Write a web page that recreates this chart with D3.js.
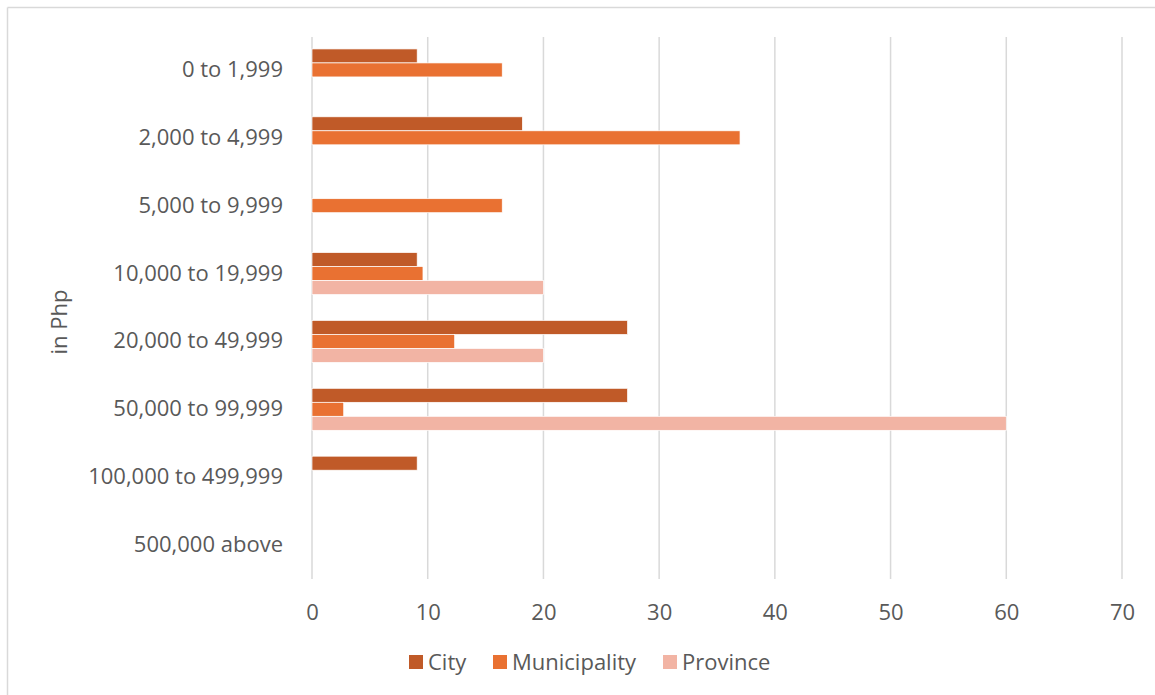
<!DOCTYPE html>
<html><head><meta charset="utf-8">
<script src="https://cdn.jsdelivr.net/npm/d3@7"></script>
<style>body{margin:0;background:#fff;} text{font-family:"Open Sans","Noto Sans",sans-serif;fill:#595959;}</style>
</head><body><svg id="c" width="1155" height="695"></svg>
<script>
const categories = ["0 to 1,999","2,000 to 4,999","5,000 to 9,999","10,000 to 19,999","20,000 to 49,999","50,000 to 99,999","100,000 to 499,999","500,000 above"];
const seriesNames = ["City","Municipality","Province"];
const cityValues = [9.09,18.18,0,9.09,27.27,27.27,9.09,0];
const municipalityValues = [16.44,36.99,16.44,9.59,12.33,2.74,0,0];
const provinceValues = [0,0,0,20,20,60,0,0];
const xTicks = [0,10,20,30,40,50,60,70];
const colors = ["#C05A28","#E97132","#F2B4A4"];

const svg = d3.select("#c");
svg.append("line").attr("x1",7.5).attr("x2",1155).attr("y1",7.5).attr("y2",7.5).attr("stroke","#d9d9d9").attr("stroke-width",1.5);
svg.append("line").attr("x1",7.5).attr("x2",7.5).attr("y1",7.5).attr("y2",695).attr("stroke","#d9d9d9").attr("stroke-width",1.5);

const x = d3.scaleLinear().domain([0,70]).range([312,1122]);
const y = d3.scaleBand().domain(categories).range([36,579]);
const inner = d3.scaleBand().domain(seriesNames).range([y.bandwidth()/2-21, y.bandwidth()/2+21]);

svg.append("g").selectAll("line").data(xTicks).join("line")
  .attr("x1",d=>x(d)).attr("x2",d=>x(d)).attr("y1",37).attr("y2",579)
  .attr("stroke","#d9d9d9").attr("stroke-width",1.5);

const xAxis = svg.append("g").attr("transform","translate(0,579)")
  .call(d3.axisBottom(x).tickValues(xTicks).tickSize(0).tickPadding(25).tickFormat(d3.format("d")));
xAxis.select(".domain").remove();
xAxis.selectAll("text").style("font-size","22px").attr("fill","#595959");

const yAxis = svg.append("g").attr("transform","translate(312,0)")
  .call(d3.axisLeft(y).tickSize(0).tickPadding(29));
yAxis.select(".domain").remove();
yAxis.selectAll("text").style("font-size","22px").attr("fill","#595959");

const allValues = [cityValues, municipalityValues, provinceValues];
seriesNames.forEach((s,si)=>{
  svg.append("g").selectAll("rect").data(categories.map((c,i)=>({c,v:allValues[si][i]})).filter(d=>d.v>0))
    .join("rect")
    .attr("x",x(0)).attr("y",d=>y(d.c)+inner(s))
    .attr("width",d=>x(d.v)-x(0)).attr("height",inner.bandwidth())
    .attr("fill",colors[si]).attr("stroke","#fff").attr("stroke-width",0.7);
});

svg.append("text").attr("transform","translate(67,322) rotate(-90)").attr("text-anchor","middle")
  .style("font-size","22px").text("in Php");

const legendX = [409,493,663];
seriesNames.forEach((s,i)=>{
  svg.append("rect").attr("x",legendX[i]).attr("y",655).attr("width",14).attr("height",14).attr("fill",colors[i]);
  svg.append("text").attr("x",legendX[i]+19).attr("y",670).style("font-size","22px").text(s);
});
</script></body></html>
